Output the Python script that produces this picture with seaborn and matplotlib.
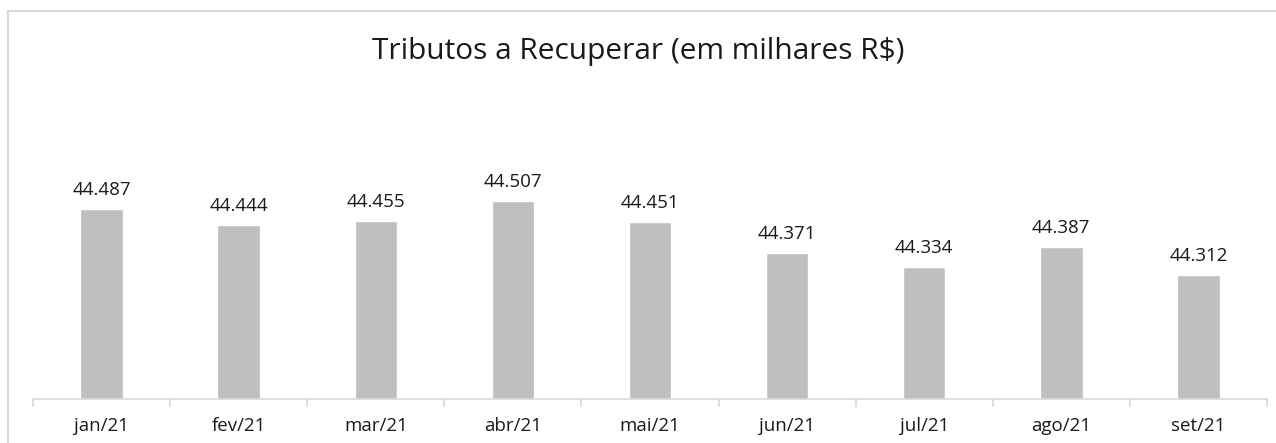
import matplotlib
matplotlib.use('Agg')
import matplotlib.pyplot as plt
import seaborn as sns
import pandas as pd
from matplotlib.patches import Rectangle

# data (thousands R$)
months = ['jan/21', 'fev/21', 'mar/21', 'abr/21', 'mai/21',
          'jun/21', 'jul/21', 'ago/21', 'set/21']
values = [44.487, 44.444, 44.455, 44.507, 44.451,
          44.371, 44.334, 44.387, 44.312]
labels = ['44.487', '44.444', '44.455', '44.507', '44.451',
          '44.371', '44.334', '44.387', '44.312']

df = pd.DataFrame({'mes': months, 'valor': values})

sns.set_theme(style='white')
plt.rcParams['font.family'] = ['Open Sans', 'DejaVu Sans']

W, H = 1276, 443
fig = plt.figure(figsize=(W / 100, H / 100), dpi=100)

# chart frame (light grey, runs off the right/bottom edge)
fig.patches.append(Rectangle((7.5 / W, -0.1), 1.2, 1 - 11.5 / H + 0.1,
                             transform=fig.transFigure, fill=False,
                             edgecolor='#d9d9d9', linewidth=1.5))

ymin, ymax = 43.987, 44.75
ppu = 381.0  # pixels per unit
ax_bottom = 399
ax_height = (ymax - ymin) * ppu
ax = fig.add_axes([33 / W, (H - ax_bottom) / H, (1267 - 33) / W, ax_height / H])

sns.barplot(data=df, x='mes', y='valor', color='#bfbfbf', width=0.31,
            saturation=1, ax=ax)
ax.set_ylim(ymin, ymax)
ax.set_xlim(-0.5, len(months) - 0.5)

for i, (v, lab) in enumerate(zip(values, labels)):
    ax.annotate(lab, (i, v), xytext=(0, 7), textcoords='offset points',
                ha='center', va='bottom', fontsize=13.5, color='#1a1a1a')

for s in ['top', 'right', 'left']:
    ax.spines[s].set_visible(False)
ax.spines['bottom'].set_color('#d9d9d9')
ax.spines['bottom'].set_linewidth(1.2)
ax.set_yticks([])
ax.set_xlabel('')
ax.set_ylabel('')
ax.set_xticks([i - 0.5 for i in range(len(months) + 1)], minor=True)
ax.tick_params(axis='x', which='major', length=0, pad=13, labelsize=13.5,
               labelcolor='#1a1a1a')
ax.tick_params(axis='x', which='minor', length=6, color='#d9d9d9', width=1.2,
               bottom=True)

fig.text(0.5, 1 - 51 / H, 'Tributos a Recuperar (em milhares R$)',
         ha='center', va='center', fontsize=21.5, color='#1a1a1a')

fig.savefig('out.png', dpi=100)
